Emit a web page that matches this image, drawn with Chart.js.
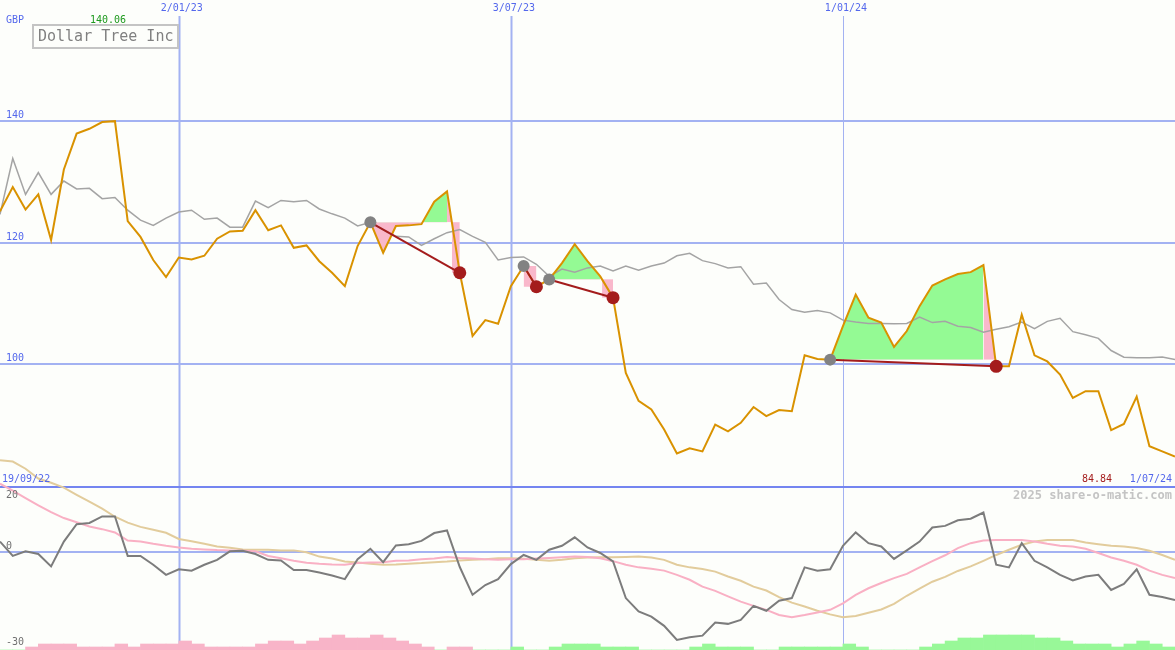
<!DOCTYPE html>
<html>
<head>
<meta charset="utf-8">
<title>Dollar Tree Inc</title>
<script src="https://cdn.jsdelivr.net/npm/chart.js@4.4.1/dist/chart.umd.min.js"></script>
<style>
  html, body { margin: 0; padding: 0; background: #fdfefb; }
  canvas { display: block; }
</style>
</head>
<body>
<canvas id="chart" width="1175" height="650"></canvas>
<script>
// weekly closes, 26 Sep 2022 .. 1 Jul 2024
const price = [125.2, 129.2, 125.5, 128.0, 120.5, 132.1, 138.0, 138.8, 139.9, 140.06,
  123.6, 121.0, 117.2, 114.4, 117.6, 117.3, 117.9, 120.7, 121.9, 122.0,
  125.4, 122.1, 122.9, 119.2, 119.6, 117.0, 115.1, 112.9, 119.5, 123.4,
  118.4, 122.8, 122.9, 123.1, 126.8, 128.5, 115.1, 104.7, 107.3, 106.7,
  112.9, 116.2, 112.8, 114.0, 116.7, 119.8, 117.0, 114.5, 111.0, 98.6,
  94.0, 92.6, 89.3, 85.35, 86.2, 85.7, 90.1, 89.0, 90.4, 93.0,
  91.5, 92.5, 92.3, 101.5, 100.9, 100.8, 106.3, 111.5, 107.7, 106.9,
  102.9, 105.5, 109.6, 113.0, 114.0, 114.9, 115.2, 116.35, 99.7, 99.7,
  108.2, 101.5, 100.5, 98.35, 94.5, 95.6, 95.6, 89.2, 90.2, 94.7,
  86.55, 85.7, 84.84];

// moving average (grey)
const average = [124.7, 133.9, 128.0, 131.6, 128.0, 130.2, 128.9, 129.0, 127.3, 127.5,
  125.4, 123.75, 122.9, 124.1, 125.1, 125.4, 123.9, 124.1, 122.6, 122.6,
  126.9, 125.8, 127.0, 126.8, 127.0, 125.6, 124.8, 124.1, 122.8, 123.4,
  122.2, 121.1, 121.0, 119.6, 120.7, 121.7, 122.2, 121.1, 120.1, 117.2,
  117.6, 117.7, 116.5, 114.5, 115.7, 115.2, 115.9, 116.2, 115.4, 116.2,
  115.5, 116.2, 116.7, 117.9, 118.3, 117.1, 116.6, 115.9, 116.1, 113.2,
  113.4, 110.7, 109.05, 108.6, 108.9, 108.5, 107.3, 107.0, 106.75, 106.75,
  106.7, 106.75, 107.8, 106.9, 107.1, 106.3, 106.1, 105.3, 105.8, 106.2,
  107.0, 105.9, 107.1, 107.6, 105.4, 104.9, 104.3, 102.3, 101.2, 101.1,
  101.1, 101.25, 100.8];

// lower panel
const momentum = [3.2, -1.2, 0.2, -0.6, -4.4, 3.2, 8.5, 8.9, 10.9, 10.9,
  -1.2, -1.2, -3.9, -7.0, -5.3, -5.7, -3.9, -2.4, 0.2, 0.4,
  -0.6, -2.4, -2.6, -5.5, -5.5, -6.3, -7.2, -8.3, -2.2, 1.0,
  -3.1, 2.0, 2.4, 3.4, 5.8, 6.6, -4.6, -13.1, -10.1, -8.3,
  -3.7, -0.9, -2.4, 0.7, 1.9, 4.5, 1.4, -0.3, -2.9, -14.1,
  -18.2, -19.8, -22.6, -26.9, -26.1, -25.6, -21.6, -22.0, -20.8, -16.5,
  -18.0, -14.9, -14.1, -4.7, -5.7, -5.3, 1.9, 6.0, 2.7, 1.7,
  -2.1, 0.5, 3.2, 7.5, 8.0, 9.7, 10.2, 12.1, -3.9, -4.7,
  2.7, -2.7, -4.7, -7.0, -8.7, -7.5, -7.0, -11.6, -9.8, -5.3,
  -13.1, -13.8, -14.7];

const fastLine = [20.9, 18.8, 16.5, 14.3, 12.2, 10.4, 9.1, 7.8, 7.0, 6.0,
  3.5, 3.2, 2.5, 1.9, 1.4, 1.0, 0.8, 0.6, 0.5, 0.4,
  0.2, -1.2, -1.9, -2.7, -3.3, -3.6, -3.8, -3.9, -3.4, -3.2,
  -3.1, -2.7, -2.6, -2.2, -2.0, -1.5, -1.8, -2.0, -2.2, -2.4,
  -2.2, -2.2, -2.0, -1.8, -1.6, -1.4, -1.5, -1.9, -2.8, -3.9,
  -4.7, -5.1, -5.7, -7.0, -8.5, -10.6, -11.9, -13.6, -15.2, -16.5,
  -17.7, -19.3, -20.0, -19.3, -18.5, -17.7, -15.7, -13.1, -11.1, -9.5,
  -8.0, -6.7, -4.7, -2.8, -1.0, 1.2, 2.7, 3.5, 3.7, 3.7,
  3.7, 3.2, 2.5, 1.9, 1.7, 1.0, -0.3, -1.7, -2.7, -3.9,
  -5.7, -7.0, -8.0];

const slowLine = [28.1, 27.7, 25.5, 22.5, 21.2, 19.7, 17.5, 15.4, 13.3, 10.8,
  9.0, 7.7, 6.8, 5.9, 4.0, 3.3, 2.5, 1.7, 1.3, 0.8,
  0.7, 0.7, 0.5, 0.5, -0.1, -1.4, -2.0, -2.9, -3.2, -3.6,
  -3.9, -3.8, -3.6, -3.4, -3.1, -2.9, -2.6, -2.4, -2.2, -1.9,
  -1.9, -2.1, -2.4, -2.7, -2.4, -1.9, -1.7, -1.6, -1.6, -1.5,
  -1.4, -1.7, -2.4, -3.9, -4.7, -5.2, -6.0, -7.5, -8.8, -10.6,
  -11.8, -13.8, -15.5, -16.7, -18.0, -19.1, -20.0, -19.6, -18.6, -17.6,
  -15.9, -13.4, -11.2, -9.1, -7.6, -5.8, -4.4, -2.7, -0.9, 0.7,
  2.2, 3.2, 3.7, 3.7, 3.7, 2.9, 2.4, 1.9, 1.7, 1.2,
  0.4, -0.9, -2.4];

// histogram along the bottom (negative = pink, positive = green)
const histogram = [0, 0, -1, -2, -2, -2, -1, -1, -1, -2,
  -1, -2, -2, -2, -3, -2, -1, -1, -1, -1,
  -2, -3, -3, -2, -3, -4, -5, -4, -4, -5,
  -4, -3, -2, -1, 0, -1, -1, 0, 0, 0,
  1, 0, 0, 1, 2, 2, 2, 1, 1, 1,
  0, 0, 0, 0, 1, 2, 1, 1, 1, 0,
  0, 1, 1, 1, 1, 1, 2, 1, 0, 0,
  0, 0, 1, 2, 3, 4, 4, 5, 5, 5,
  5, 4, 4, 3, 2, 2, 2, 1, 2, 3,
  2, 1, 0];

// buy / sell signals (week index)
const buyIdx = [29, 41, 43, 65];
const sellIdx = [36, 42, 48, 78];

const dateLabels = ["2/01/23", "3/07/23", "1/01/24"];
const dateIdx = [14, 40, 66];
const priceTicks = [140, 120, 100];
const oscTicks = [20, 0, -30];
const firstDate = "19/09/22";
const lastDate = "1/07/24";

const MONO = '"DejaVu Sans Mono", "Liberation Mono", monospace';
const GREEN_FILL = "#94fa94";
const PINK_FILL = "#f9b8cb";
const NONE = "rgba(0,0,0,0)";

function toXY(arr) {
  return arr.map((v, i) => ({ x: i, y: v }));
}

function sliceXY(arr, from, to) {
  const out = [];
  for (let i = from; i <= to; i++) out.push({ x: i, y: arr[i] });
  return out;
}

function fillSet(data, level, above, below) {
  return {
    type: "line",
    data: data,
    yAxisID: "p",
    borderWidth: 0,
    borderColor: NONE,
    pointRadius: 0,
    fill: { target: { value: level }, above: above, below: below },
    order: 20
  };
}

const datasets = [];

// trade fills: price vs entry level, last week shaded as the loss
buyIdx.forEach((b, k) => {
  const s = sellIdx[k];
  const level = price[b];
  if (s - 1 > b) datasets.push(fillSet(sliceXY(price, b, s - 1), level, GREEN_FILL, PINK_FILL));
  datasets.push(fillSet(sliceXY(price, s - 1, s), level, PINK_FILL, NONE));
  const prev = price[s - 1];
  const start = prev > level ? (s - 1) + (prev - level) / (prev - price[s]) : s - 1;
  datasets.push(fillSet([{ x: start, y: price[s] }, { x: s, y: price[s] }], level, PINK_FILL, PINK_FILL));
});

// histogram
datasets.push({
  type: "bar",
  data: histogram.slice(0, 92).map((v, i) => ({ x: i + 0.5, y: Math.abs(v) })),
  yAxisID: "h",
  backgroundColor: histogram.slice(0, 92).map(v => (v < 0 ? "#f8b4c8" : "#98f898")),
  barPercentage: 1,
  categoryPercentage: 1,
  borderWidth: 0,
  order: 19
});

// lower panel lines
datasets.push({ type: "line", data: toXY(slowLine), yAxisID: "o", borderColor: "#e2cc9c", borderWidth: 2, pointRadius: 0, order: 18 });
datasets.push({ type: "line", data: toXY(fastLine), yAxisID: "o", borderColor: "#f9b0c4", borderWidth: 2, pointRadius: 0, order: 17 });
datasets.push({ type: "line", data: toXY(momentum), yAxisID: "o", borderColor: "#7c7c7c", borderWidth: 2, pointRadius: 0, order: 16 });

// moving average and price
datasets.push({ type: "line", data: toXY(average), yAxisID: "p", borderColor: "#a4a4a4", borderWidth: 1.5, pointRadius: 0, order: 12 });
datasets.push({ type: "line", data: toXY(price), yAxisID: "p", borderColor: "#d99200", borderWidth: 2, pointRadius: 0, order: 10 });

// trade lines
buyIdx.forEach((b, k) => {
  const s = sellIdx[k];
  datasets.push({
    type: "line",
    data: [{ x: b, y: price[b] }, { x: s, y: price[s] }],
    yAxisID: "p",
    borderColor: "#a41c1c",
    borderWidth: 2,
    pointRadius: 0,
    order: 5
  });
});

// markers
datasets.push({
  type: "line",
  data: buyIdx.map(i => ({ x: i, y: price[i] })),
  yAxisID: "p",
  showLine: false,
  pointRadius: 6,
  pointBorderWidth: 0,
  pointBackgroundColor: "#828282",
  order: 2
});
datasets.push({
  type: "line",
  data: sellIdx.map(i => ({ x: i, y: price[i] })),
  yAxisID: "p",
  showLine: false,
  pointRadius: 6.5,
  pointBorderWidth: 0,
  pointBackgroundColor: "#a41c1c",
  order: 1
});

const backdrop = {
  id: "backdrop",
  beforeDraw(chart) {
    const ctx = chart.ctx;
    ctx.save();
    ctx.fillStyle = "#fdfefb";
    ctx.fillRect(0, 0, chart.width, chart.height);
    ctx.restore();
  },
  beforeDatasetsDraw(chart) {
    const { ctx, scales } = chart;
    const w = chart.width;
    ctx.save();
    ctx.strokeStyle = "#a3b2f2";
    ctx.lineWidth = 2;
    priceTicks.forEach(v => {
      const y = Math.round(scales.p.getPixelForValue(v));
      ctx.beginPath(); ctx.moveTo(0, y); ctx.lineTo(w, y); ctx.stroke();
    });
    const y0 = Math.round(scales.o.getPixelForValue(0));
    ctx.beginPath(); ctx.moveTo(0, y0); ctx.lineTo(w, y0); ctx.stroke();

    dateIdx.forEach((d, k) => {
      const x = Math.round(scales.x.getPixelForValue(d)) + 0.5;
      ctx.lineWidth = k === 2 ? 1 : 2;
      ctx.beginPath(); ctx.moveTo(x, 16); ctx.lineTo(x, chart.height); ctx.stroke();
    });

    // panel separator
    const ys = Math.round(scales.p.getPixelForValue(80)) + 1;
    ctx.strokeStyle = "#7485f0";
    ctx.lineWidth = 2;
    ctx.beginPath(); ctx.moveTo(0, ys); ctx.lineTo(w, ys); ctx.stroke();
    ctx.restore();
  },
  afterDatasetsDraw(chart) {
    const { ctx, scales } = chart;
    ctx.save();
    ctx.textBaseline = "middle";
    ctx.font = "10px " + MONO;

    ctx.fillStyle = "#5468ec";
    ctx.textAlign = "left";
    ctx.fillText("GBP", 6, 20);
    priceTicks.forEach(v => {
      ctx.fillText(String(v), 6, scales.p.getPixelForValue(v) - 6);
    });
    ctx.textAlign = "center";
    dateIdx.forEach((d, k) => {
      ctx.fillText(dateLabels[k], scales.x.getPixelForValue(d) + 3, 8);
    });
    ctx.textAlign = "left";
    ctx.fillText(firstDate, 2, 479);
    ctx.textAlign = "right";
    ctx.fillText(lastDate, 1172, 479);

    const maxVal = Math.max(...price);
    const lastVal = price[price.length - 1];
    ctx.fillStyle = "#1e9a1e";
    ctx.textAlign = "center";
    ctx.fillText(maxVal.toFixed(2), 108, 20);
    ctx.fillStyle = "#a41c1c";
    ctx.textAlign = "right";
    ctx.fillText(lastVal.toFixed(2), 1112, 479);

    ctx.fillStyle = "#707070";
    ctx.textAlign = "left";
    oscTicks.forEach((v, k) => {
      const y = scales.o.getPixelForValue(v);
      const dy = k === 0 ? 9 : (k === oscTicks.length - 1 ? -8 : -6);
      ctx.fillText(String(v), 6, y + dy);
    });

    ctx.font = "bold 12px " + MONO;
    ctx.fillStyle = "#c4c4c4";
    ctx.textAlign = "right";
    ctx.fillText("2025 share-o-matic.com", 1172, 496);

    // title box
    ctx.strokeStyle = "#c4c4c4";
    ctx.lineWidth = 2;
    ctx.fillStyle = "#fdfefb";
    ctx.fillRect(33, 25, 145, 23);
    ctx.strokeRect(33, 25, 145, 23);
    ctx.font = "15px " + MONO;
    ctx.fillStyle = "#808080";
    ctx.textAlign = "left";
    ctx.fillText("Dollar Tree Inc", 38, 37);
    ctx.restore();
  }
};

new Chart(document.getElementById("chart"), {
  data: { datasets: datasets },
  options: {
    responsive: false,
    animation: false,
    events: [],
    layout: { padding: 0, autoPadding: false },
    plugins: { legend: { display: false }, tooltip: { enabled: false } },
    scales: {
      x: { type: "linear", min: 0, max: 92, offset: false, grid: { offset: false }, display: false },
      p: { type: "linear", min: 53, max: 160, display: false },
      o: { type: "linear", min: -30, max: 169, display: false },
      h: { type: "linear", min: 0, max: 216.7, display: false }
    }
  },
  plugins: [backdrop]
});
</script>
</body>
</html>
